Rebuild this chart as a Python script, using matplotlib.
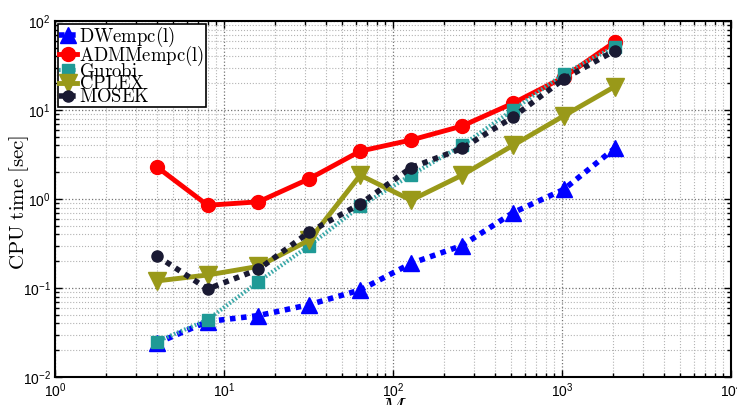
import matplotlib
matplotlib.use("Agg")
import matplotlib.pyplot as plt
import numpy as np

M = [4, 8, 16, 32, 64, 128, 256, 512, 1024, 2048]
dwempc = [0.024, 0.042, 0.049, 0.065, 0.095, 0.189, 0.30, 0.70, 1.28, 3.7]
admm = [2.3, 0.85, 0.93, 1.69, 3.45, 4.6, 6.6, 11.9, 23.3, 58.0]
gurobi = [0.025, 0.044, 0.118, 0.30, 0.83, 1.86, 4.0, 10.0, 25.4, 51.5]
cplex = [0.12, 0.14, 0.175, 0.346, 1.85, 0.97, 1.85, 4.0, 8.6, 18.3]
mosek = [0.23, 0.0975, 0.162, 0.426, 0.88, 2.25, 3.7, 8.3, 22.3, 46.4]

labels = ["DWempc(l)", "ADMMempc(l)", "Gurobi", "CPLEX", "MOSEK"]

plt.rcParams['font.family'] = ['Liberation Sans', 'DejaVu Sans']
plt.rcParams['mathtext.fontset'] = 'cm'

fig = plt.figure(figsize=(7.37, 4.05), dpi=100)
ax = fig.add_axes([55/737, 1 - 377/405, (731-55)/737, (377-21)/405])

def tex(s):
    return r'$\mathrm{' + s + '}$'

ax.plot(M, dwempc, color='#0000ff', linestyle=(0, (1, 1)), lw=4, marker='^', ms=11,
        label=tex(labels[0]))
ax.plot(M, admm, color='#ff0000', linestyle='-', lw=3.5, marker='o', ms=10,
        label=tex(labels[1]))
ax.plot(M, gurobi, color='#3aa8a8', linestyle=(0, (0.4, 0.5)), lw=3, marker='s', ms=9,
        mfc='#1f9a96', mec='#1f9a96', label=tex(labels[2]))
ax.plot(M, cplex, color='#999919', linestyle='-', lw=3.5, marker='v', ms=13,
        label=tex(labels[3]))
ax.plot(M, mosek, color='#1a1a33', linestyle=(0, (1, 1)), lw=4, marker='o', ms=8,
        label=tex(labels[4]))

ax.set_xscale('log')
ax.set_yscale('log')
ax.set_xlim(1, 1e4)
ax.set_ylim(1e-2, 1e2)

ax.grid(True, which='major', linestyle=':', color='0.45', lw=0.9)
ax.grid(True, which='minor', linestyle=':', color='0.7', lw=0.8)
ax.set_axisbelow(True)

ax.tick_params(which='both', direction='in', top=True, right=True, labelsize=10,
               width=1.0, pad=3)
ax.tick_params(which='major', length=5)
ax.tick_params(which='minor', length=3)
for sp in ax.spines.values():
    sp.set_linewidth(1.5)

ax.set_ylabel(r'$\mathrm{CPU\ time\ [sec]}$', fontsize=15)
ax.yaxis.set_label_coords(-0.036, 0.49)
ax.set_xlabel(r'$M$', fontsize=17, labelpad=-1)

leg = ax.legend(loc='upper left', fontsize=13.5, labelspacing=-0.28, handlelength=0.95,
                handletextpad=0.15, borderpad=0.05, borderaxespad=0.15,
                fancybox=False, framealpha=1, edgecolor='black')
leg.get_frame().set_linewidth(1.2)

fig.savefig('out.png', dpi=100)
